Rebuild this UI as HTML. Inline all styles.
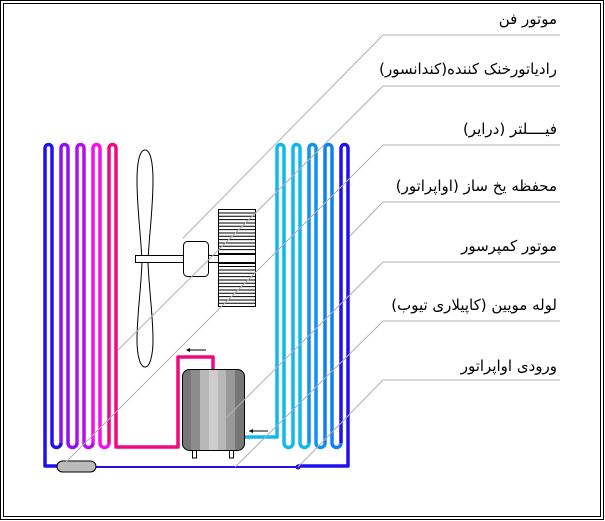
<!DOCTYPE html>
<html><head><meta charset="utf-8"><style>
body{margin:0;background:#fff}
#w{position:relative;width:605px;height:521px;overflow:hidden}
.l{position:absolute;right:48px;font:15px "DejaVu Sans","Liberation Sans",sans-serif;color:#000;white-space:nowrap;direction:rtl;line-height:18px}
</style></head><body><div id="w">
<svg width="605" height="521" style="position:absolute;left:0;top:0">
<defs>
<linearGradient id="g" x1="0" x2="1" y1="0" y2="0">
<stop offset="0" stop-color="#777"/><stop offset=".14" stop-color="#777"/>
<stop offset=".14" stop-color="#8c8c8c"/><stop offset=".28" stop-color="#8c8c8c"/>
<stop offset=".28" stop-color="#b8b8b8"/><stop offset=".43" stop-color="#b8b8b8"/>
<stop offset=".43" stop-color="#cdcdcd"/><stop offset=".57" stop-color="#cdcdcd"/>
<stop offset=".57" stop-color="#b8b8b8"/><stop offset=".7" stop-color="#b8b8b8"/>
<stop offset=".7" stop-color="#999"/><stop offset=".85" stop-color="#999"/>
<stop offset=".85" stop-color="#777"/><stop offset="1" stop-color="#777"/>
</linearGradient></defs>
<rect x="0.5" y="0.5" width="603" height="519" fill="none" stroke="#000"/>
<rect x="3.5" y="3.5" width="597" height="513" fill="none" stroke="#000"/>
<g fill="none" stroke-width="3.5" stroke-linejoin="round">
<path stroke="#2010f0" d="M57,466H45V148A3.5,3.5 0 0 1 52,148V443A4.5,4.5 0 0 0 61,443"/>
<path stroke="#9010f0" d="M61,443V148A3.5,3.5 0 0 1 68,148V443A4.5,4.5 0 0 0 77,443"/>
<path stroke="#b010f0" d="M77,443V148A3.5,3.5 0 0 1 84,148V443A4.5,4.5 0 0 0 93,443"/>
<path stroke="#f010f0" d="M93,443V148A3.5,3.5 0 0 1 100,148V443A4.5,4.5 0 0 0 109,443"/>
<path stroke="#f00880" d="M109,443V148A3.5,3.5 0 0 1 116,148V447H178V357H213V370"/>
<path stroke="#10b8f0" d="M245,437H277V148A3.5,3.5 0 0 1 284,148V443A4.5,4.5 0 0 0 293,443V148A3.5,3.5 0 0 1 300,148V443A4.5,4.5 0 0 0 309,443"/>
<path stroke="#1090f0" d="M309,443V148A3.5,3.5 0 0 1 316,148V443A4.5,4.5 0 0 0 325,443"/>
<path stroke="#1080f0" d="M325,443V148A3.5,3.5 0 0 1 332,148V443A4.5,4.5 0 0 0 341,443"/>
<path stroke="#2010f0" d="M341,443V148A3.5,3.5 0 0 1 348,148V466H298"/>
</g>
<path d="M96,467H298" stroke="#2010f0" stroke-width="2"/>
<circle cx="298" cy="467" r="2.5" fill="#2010f0"/>
<rect x="57" y="461" width="39" height="11" rx="5.5" fill="#bbb" stroke="#000"/>
<path d="M145,150C139,150 137,165 137,180C137,210 141,235 142,262C141,290 137,315 137,340C137,355 140,367 145,367C150,367 153,355 153,340C153,315 149,290 148,262C149,235 153,210 153,180C153,165 151,150 145,150Z" fill="#fff" stroke="#000"/>
<rect x="135.5" y="255.5" width="48" height="7" fill="#fff" stroke="#000"/>
<rect x="207.5" y="255.5" width="11" height="7" fill="#fff" stroke="#000"/>
<rect x="183.5" y="241.5" width="25" height="35" rx="4" fill="#fff" stroke="#000"/>
<g stroke="#000">
<path d="M218.5,209V307M255.5,209V307" />
<path stroke-width="1" d="M218,209.5H256M218,213H256M218,216.3H256M218,219.6H256M218,223H256M218,226.3H256M218,229.6H256M218,233H256M218,236.3H256M218,239.6H256M218,243H256M218,246.3H256M218,249.6H256M218,266.5H256M218,270H256M218,273.3H256M218,276.6H256M218,280H256M218,283.3H256M218,286.6H256M218,290H256M218,293.3H256M218,296.6H256M218,300H256M218,303.3H256M218,306.5H256"/>
<path stroke-width="2" d="M218,254H256M218,263H256"/>
</g>
<rect x="192.5" y="449" width="4" height="9" fill="#fff" stroke="#000"/>
<rect x="229.5" y="449" width="4" height="9" fill="#fff" stroke="#000"/>
<rect x="182.5" y="369.5" width="62" height="81" rx="7" fill="url(#g)" stroke="#000"/>
<path d="M187,350H206M249,431H268" stroke="#000"/>
<path d="M186,350l4,-2v4z M249,431l4,-2v4z" fill="#000"/>
<g stroke="#b0b0b0" stroke-width="1" fill="none">
<path d="M560,35H383L183,238"/>
<path d="M560,86H383L118,350"/>
<path d="M560,145H383L66,462"/>
<path d="M560,202H383L350,236"/>
<path d="M560,262H383L225,419"/>
<path d="M560,321H383L235,467"/>
<path d="M560,380H383L298,467"/>
</g>
</svg>
<div class="l" style="top:10px">موتور فن</div>
<div class="l" style="top:60px">رادیاتورخنک کننده(کندانسور)</div>
<div class="l" style="top:120px">فیــــلتر (درایر)</div>
<div class="l" style="top:177px">محفظه یخ ساز (اواپراتور)</div>
<div class="l" style="top:237px">موتور کمپرسور</div>
<div class="l" style="top:296px">لوله مویین (کاپیلاری تیوب)</div>
<div class="l" style="top:357px">ورودی اواپراتور</div>
</div></body></html>
